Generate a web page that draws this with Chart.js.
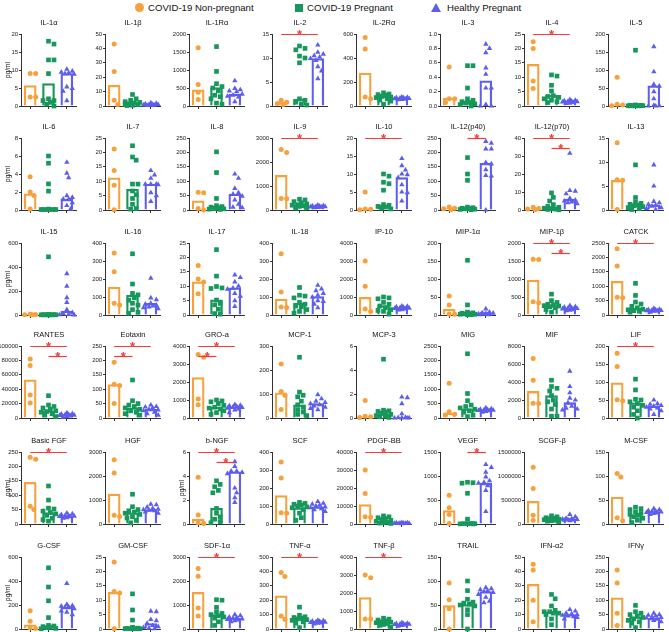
<!DOCTYPE html>
<html><head><meta charset="utf-8">
<script src="https://cdn.jsdelivr.net/npm/chart.js@4.4.1/dist/chart.umd.min.js"></script>
<style>
html,body{margin:0;padding:0;background:#fff;overflow:hidden;width:669px;height:632px;}
body{position:relative;font-family:"Liberation Sans",Arial,Helvetica,sans-serif;color:#111;}
canvas{position:absolute;}
.ttl{position:absolute;font-size:7.5px;text-align:center;width:80px;line-height:10px;white-space:nowrap;}
.unit{position:absolute;font-size:6.5px;width:30px;height:8px;line-height:8px;text-align:center;transform:rotate(-90deg);}
.lg{position:absolute;font-size:9.6px;line-height:12px;top:2px;white-space:nowrap;}
</style></head><body>
<script>
const panelNames = ['IL-1α','IL-1β','IL-1Rα','IL-2','IL-2Rα','IL-3','IL-4','IL-5',
 'IL-6','IL-7','IL-8','IL-9','IL-10','IL-12(p40)','IL-12(p70)','IL-13',
 'IL-15','IL-16','IL-17','IL-18','IP-10','MIP-1α','MIP-1β','CATCK',
 'RANTES','Eotaxin','GRO-a','MCP-1','MCP-3','MIG','MIF','LIF',
 'Basic FGF','HGF','b-NGF','SCF','PDGF-BB','VEGF','SCGF-β','M-CSF',
 'G-CSF','GM-CSF','SDF-1α','TNF-α','TNF-β','TRAIL','IFN-α2','IFNγ'];
const groupNames = ['COVID-19 Non-pregnant','COVID-19 Pregnant','Healthy Pregnant'];
const yMax = [20,50,2000,15,600,1,25,200, 8,25,250,3000,20,250,40,15,
 600,400,25,400,4000,200,2000,2500, 100000,250,4000,300,6,2500,8000,200,
 250,3000,6,400,40000,1500,1500000,150, 600,25,3000,500,4000,150,50,250];
const yStep = [5,10,500,5,200,0.2,5,50, 2,5,50,1000,5,50,10,5,
 200,100,5,100,1000,50,500,500, 20000,50,1000,100,2,500,2000,50,
 50,1000,2,100,10000,500,500000,50, 200,5,1000,100,1000,50,10,50];
const barNP = [5.7,14.3,450,0.7,275,0.11,14.5,3, 1.8,11.2,32,1450,0.3,5,0.5,6.2,
 3,155,11.5,88,980,16,970,1170, 53000,116,2250,105,0.1,170,2950,98,
 145,1250,0.4,158,10800,280,470000,56, 35,12.7,1530,230,1750,49,31,108];
const barCP = [6.2,2.5,510,1.4,80,0.05,3.7,2, 0.1,7.2,13,230,1.3,5,0.8,1.2,
 3,110,5.3,65,520,5,260,230, 10000,35,610,55,0.35,320,2500,42,
 40,470,1.3,90,1000,10,100000,19, 25,0.3,600,70,370,51,12,42];
const barHP = [9.0,1.0,330,9.9,65,0.35,1.7,56, 1.2,9.0,55,150,9.0,162,6.0,1.1,
 33,65,9.4,102,400,4,190,160, 4500,30,620,60,0.05,280,1700,33,
 28,600,4.35,95,400,850,110000,26, 180,1.9,440,53,270,78,10,37];
const ptsNP = [[9,9,2.5,2.5],[43,24,4,1],[1620,600,380,180],[1.2,0.8,0.5,0.3],[570,475,75,60],[0.54,0.1,0.1,0.05],[22.3,20,8.7,6.1],[80,5,3,1],
 [3.7,2.0,1.6,0.1],[21.2,13.7,8.6,0.1],[62,60,5,0],[2520,2400,480,470],[5,0.3,0.2,0.1],[10,6,4,2],[1.5,0.8,0.5,0.3],[14,6.3,6.2,0.1],
 [6,5,3,2],[345,240,65,55],[17.2,12.5,11.5,7.4],[340,128,45,42],[3000,1600,330,200],[53,28,3,2],[1550,1540,370,340],[2300,1700,620,600],
 [82000,73000,32000,21000],[194,117,113,50],[3530,3380,1050,730],[225,110,95,35],[1.45,0.15,0.1,0.05],[1210,220,130,100],[6600,4200,1650,1600],[180,143,51,48],
 [232,225,62,50],[2680,2130,360,310],[3.9,0.75,0.1,0.05],[345,255,62,60],[30000,17000,4000,3800],[600,340,200,10],[1180000,740000,180000,80000],[105,98,13,7],
 [153,65,10,5],[23.3,13,12.5,0.1],[2520,2200,870,540],[393,365,90,68],[3000,2850,560,550],[96,61,42,0],[45,41,20,5],[205,160,55,12]];
const ptsCP = [[18,17.2,12.8,12.8,9,2,1.5,1.5,1,0.5,0],[8,5,4,3,2.5,2,1.5,1,1,0.5,0.3],[1650,960,620,540,500,420,300,260,200,80,50],[12.5,12,11.7,10.4,10,9,1.5,1.2,0.8,0.4,0.2],
 [110,100,95,90,80,75,70,60,50,40,15],[0.56,0.56,0.25,0.1,0.08,0.06,0.05,0.04,0.03,0.02,0],[10.8,10.4,7.2,5.2,3.6,3.3,3,2.5,2,1.5,1.2],[155,3,2,2,1,1,1,0.5,0.5,0.5,0.5],
 [6,5.2,2.9,2.1,0.1,0.05,0.05,0.05,0.05,0.05,0.05],[22.3,18.4,17.3,9,9,6.6,5.3,4,2,0.5,0.3],[202,130,40,15,12,10,8,5,4,3,2],[450,420,350,300,250,220,200,180,150,100,80],
 [10,9.4,7.7,7.3,5.5,1.5,1.3,1,0.8,0.5,0.3],[182,125,103,10,8,6,5,4,3,2,1],[9.5,7,5,3,2,1.5,1,0.8,0.5,0.3,0.1],[9.4,2.6,1.6,1.4,1.2,1,0.9,0.7,0.5,0.3,0.1],
 [485,4,3,3,2,2,2,1,1,1,1],[340,172,120,112,95,82,65,55,30,15,10],[22.7,13.5,9.9,9.4,9.2,5.2,4,3.5,2,0.5,0.3],[153,110,105,95,70,60,50,45,30,20,10],
 [1000,950,900,700,600,500,400,300,250,200,50],[152,28,8,6,5,4,3,2,2,1,1],[580,400,350,300,280,260,250,230,200,150,80],[1100,680,450,380,300,250,200,180,150,130,100],
 [31000,18000,16000,14000,12000,10000,9000,8000,6000,4000,2000],[132,60,50,45,40,35,30,25,20,15,10],[1000,950,900,800,700,600,550,500,400,300,200],[253,108,95,88,70,55,45,35,25,15,10],
 [4.9,0.65,0.6,0.55,0.5,0.4,0.3,0.2,0.15,0.1,0.05],[2230,850,600,450,400,350,300,250,200,100,50],[4200,3500,3300,3000,2500,2000,1800,1500,1000,200,200],[108,78,52,50,45,40,35,30,20,10,0],
 [132,83,55,52,45,40,35,30,20,15,10],[1240,720,600,550,500,450,400,300,250,150,50],[3.6,3.3,3.1,2.8,2.6,1.3,0.9,0.6,0.4,0.2,0.1],[120,115,110,105,100,95,90,80,60,35,20],
 [4500,4000,3500,3000,2500,2000,1500,1000,800,500,300],[870,860,850,640,100,10,8,6,5,3,2],[170000,150000,130000,120000,110000,100000,90000,80000,70000,60000,50000],[35,32,30,25,22,20,18,15,12,8,3],
 [510,350,235,95,30,25,20,15,10,5,2],[12.2,6.6,3.1,0.6,0.3,0.2,0.1,0.1,0.1,0.1,0.1],[1220,1200,900,700,650,600,550,500,450,300,150],[152,95,85,80,75,70,65,60,50,40,10],
 [600,550,500,450,400,380,350,300,250,200,100],[100,80,62,56,54,52,50,48,40,30,0],[24,21,16,13,12,12,11,11,10,7,3],[82,60,55,50,45,40,35,30,25,20,5]];
const ptsHP = [[10.2,9.7,9.4,9.2,9.0,8.8,5.3,4.9,4.1,1.5],[2.2,1.8,1.5,1.2,1,1,0.8,0.6,0.5,0.3],[700,490,450,420,400,330,300,270,250,120],[12.7,11.2,10.8,10.5,10.2,9.9,9.5,8.2,7.3,5.7],
 [75,72,70,68,65,62,60,58,55,52],[0.86,0.8,0.74,0.53,0.44,0.25,0.25,0.02,0,0],[2.2,2,1.8,1.7,1.6,1.5,1.4,1.2,1,0.9],[165,95,60,55,40,20,2,1,0,0],
 [5.3,4.1,3.6,1.6,1.4,1.2,1.2,0.8,0.5,0.1],[13.7,12.2,11,9,9,9,8.8,6,5,3],[125,110,75,60,55,48,35,20,10,8],[200,180,170,160,150,140,130,120,110,100],
 [14.3,12.3,11.1,10,9.8,9,7,5,4.8,2.5],[238,232,212,212,165,160,140,120,118,0],[31.5,10.8,10.5,9,6.5,5.5,5,4.5,4,3.5],[9.4,5,1.8,1.5,1.2,1,0.8,0.5,0.3,0.1],
 [345,240,145,105,45,20,10,5,2,1],[205,95,85,65,60,55,50,45,40,35],[13.9,13,11.5,10,9.3,9,7.5,6.5,5,3],[165,145,135,120,110,100,80,75,60,40],
 [500,480,450,420,400,380,360,340,300,280],[17,8,6,5,4,3,2,2,1,1],[260,230,220,200,190,180,170,150,130,120],[230,200,190,180,170,160,150,140,130,100],
 [7000,6000,5500,5000,4500,4000,3500,3000,2000,1000],[45,40,38,35,30,28,25,20,15,10],[750,700,680,650,600,580,550,500,450,300],[97,80,70,65,60,55,50,45,40,35],
 [1.75,1.7,1.2,0.35,0.05,0.03,0.02,0.01,0,0],[350,320,300,290,280,270,260,250,230,200],[5200,3500,2800,2200,2000,1700,1300,1100,1000,900],[50,40,38,35,33,30,28,25,20,10],
 [38,35,33,30,28,27,26,25,22,20],[830,800,700,650,620,600,580,550,500,450],[5.2,4.8,4.4,4.4,4.3,4.2,3,2.6,2.2,1.8],[125,115,110,105,100,95,90,85,80,70],
 [800,700,600,500,450,400,350,300,250,200],[1240,1180,1080,980,900,870,850,800,700,260],[200000,150000,120000,110000,100000,95000,90000,85000,80000,70000],[32,30,28,27,26,25,24,23,22,20],
 [380,205,195,190,185,180,170,150,140,120],[6.2,6,3.3,2.9,2,1.2,0.8,0.5,0.3,0.1],[600,560,500,480,450,420,400,380,350,300],[60,58,55,53,50,48,45,42,40,35],
 [350,320,300,280,270,260,250,230,200,150],[86,84,82,80,78,76,72,66,58,55],[13.5,12.5,11,10.5,10,9.5,9,8.5,8,7],[55,50,48,45,42,40,38,35,30,25]];
// [panel, groupA, groupB, level]
const sigLines = [[3,0,2,0],[6,0,2,0],[11,0,2,0],[12,0,2,0],[13,1,2,0],[14,0,2,0],[14,1,2,1],
 [22,0,2,0],[22,1,2,1],[23,0,2,0],[24,0,2,0],[24,1,2,1],[25,0,2,0],[25,0,1,1],[26,0,2,0],[26,0,1,1],
 [31,0,2,0],[32,0,2,0],[34,0,2,0],[34,1,2,1],[36,0,2,0],[37,1,2,0],[42,0,2,0],[43,0,2,0],[44,0,2,0]];
const unitPanels = [0,8,16,32,34,40];

const COLORS = ['#F7A13C','#16975B','#5D5DF0'];
const STYLES = ['circle','rect','triangle'];
const RADII = [2.5,3.3,3.1];
const ROW_TOP = [34,138,243,346,452,557];
const PLOT_W = 56, PLOT_H = 72, PAD_TOP = 22;
const FONT = '"Liberation Sans", Arial, Helvetica, sans-serif';
Chart.defaults.font.family = FONT;

function swarm(vals, max, gi){
  const pxY = PLOT_H/max, pxX = PLOT_W/3;
  const placed = [];
  const cands = [0,0.1,-0.1,0.2,-0.2,0.3,-0.3,0.4,-0.4];
  return vals.map(v=>{
    let best = 0, bestD = -1;
    for(const o of cands){
      let d = Infinity;
      placed.forEach(p=>{ d = Math.min(d, Math.hypot((p.o-o)*pxX,(p.v-v)*pxY)); });
      if(d >= 4.8){ best = o; bestD = d; break; }
      if(d > bestD){ bestD = d; best = o; }
    }
    placed.push({o:best, v});
    return {x: gi+best, y: v};
  });
}

const sigPlugin = {
  id:'sig',
  afterDatasetsDraw(chart, args, opts){
    const list = opts.lines || [];
    const ctx = chart.ctx, xs = chart.scales.x, top = chart.chartArea.top;
    ctx.save();
    list.forEach(([a,b,lvl])=>{
      const y = Math.round(top + lvl*9.5) + 0.5;
      const x1 = xs.getPixelForValue(a), x2 = xs.getPixelForValue(b);
      ctx.strokeStyle = '#F23B3B'; ctx.lineWidth = 1.2;
      ctx.beginPath(); ctx.moveTo(x1,y); ctx.lineTo(x2,y); ctx.stroke();
      ctx.fillStyle = '#F23B3B';
      ctx.font = 'bold 13px ' + FONT;
      ctx.textAlign = 'center'; ctx.textBaseline = 'alphabetic';
      ctx.fillText('*', (x1+x2)/2, y + 4);
    });
    ctx.restore();
  }
};

// legend
(function(){
  const mk = (html)=>{ const d=document.createElement('div'); d.innerHTML=html; document.body.appendChild(d.firstChild); };
  mk(`<div style="position:absolute;left:135px;top:3px;width:9px;height:9px;border-radius:50%;background:${COLORS[0]}"></div>`);
  mk(`<div class="lg" style="left:148px">${groupNames[0]}</div>`);
  mk(`<div style="position:absolute;left:295px;top:3.5px;width:8px;height:8px;background:${COLORS[1]}"></div>`);
  mk(`<div class="lg" style="left:307px">${groupNames[1]}</div>`);
  mk(`<div style="position:absolute;left:431px;top:3px;width:0;height:0;border-left:5px solid transparent;border-right:5px solid transparent;border-bottom:9px solid ${COLORS[2]}"></div>`);
  mk(`<div class="lg" style="left:447px">${groupNames[2]}</div>`);
})();

panelNames.forEach((name,i)=>{
  const c = i % 8, r = Math.floor(i/8);
  const ax = Math.round(21 + c*83.8), top = ROW_TOP[r];
  const axW = c===0 ? 21 : 30;
  const W = axW + PLOT_W + 3, H = PAD_TOP + PLOT_H + 3 + 2;
  const cv = document.createElement('canvas');
  cv.width = W; cv.height = H;
  cv.style.left = (ax-axW)+'px'; cv.style.top = (top-PAD_TOP)+'px';
  cv.style.width = W+'px'; cv.style.height = H+'px';
  document.body.appendChild(cv);

  const t = document.createElement('div');
  t.className = 'ttl'; t.textContent = name;
  t.style.left = (ax + PLOT_W/2 - 40) + 'px'; t.style.top = (top - 16) + 'px';
  document.body.appendChild(t);

  if(unitPanels.includes(i)){
    const u = document.createElement('div');
    u.className = 'unit'; u.textContent = 'pg/ml';
    const cx = c===0 ? ax - 13 : ax - 7.5;
    u.style.left = (cx - 15) + 'px'; u.style.top = (top + PLOT_H/2 - 4) + 'px';
    document.body.appendChild(u);
  }

  const groups = [ptsNP[i], ptsCP[i], ptsHP[i]];
  const bars = [barNP[i], barCP[i], barHP[i]];
  const scatterSets = groups.map((vals,g)=>({
    type:'scatter', label: groupNames[g], xAxisID:'x', yAxisID:'y',
    data: swarm(vals, yMax[i], g),
    pointStyle: STYLES[g], pointRadius: RADII[g], pointBorderWidth: 0,
    backgroundColor: COLORS[g], borderColor: COLORS[g], clip: false, order: 0
  }));
  const step = yStep[i];
  new Chart(cv, {
    type:'scatter',
    data:{
      datasets:[
        { type:'bar', label:'median', data: bars.map((v,g)=>({x:g, y:v})), xAxisID:'x', yAxisID:'y',
          backgroundColor:'rgba(255,255,255,0)', borderColor: COLORS, borderWidth:1.6,
          grouped:false, barThickness:12, order:10 },
        ...scatterSets
      ]
    },
    options:{
      responsive:false, animation:false, events:[],
      layout:{padding:{top:PAD_TOP, right:3, bottom:2, left:0}},
      plugins:{legend:{display:false}, tooltip:{enabled:false}, title:{display:false},
        sig:{lines: sigLines.filter(s=>s[0]===i).map(s=>s.slice(1))}},
      scales:{
        x:{type:'linear', min:-0.5, max:2.5, offset:false, afterFit:s=>{s.height=3;},
           afterBuildTicks:s=>{ s.ticks = [0,1,2].map(v=>({value:v})); },
           grid:{display:true, drawOnChartArea:false, drawTicks:true, tickLength:3, color:'#333', offset:false},
           border:{display:true, color:'#333', width:1}, ticks:{display:false}},
        y:{type:'linear', min:0, max:yMax[i], offset:false, afterFit:s=>{s.width=axW;},
           grid:{display:true, drawOnChartArea:false, drawTicks:true, tickLength:2, color:'#333'},
           border:{display:true, color:'#333', width:1},
           ticks:{stepSize:step, autoSkip:false, padding:0.8, color:'#222', font:{size:6, family:FONT},
             callback:v=> step<1 ? Number(v).toFixed(1) : String(Math.round(v))}}
      }
    },
    plugins:[sigPlugin]
  });
});
</script>
</body></html>
